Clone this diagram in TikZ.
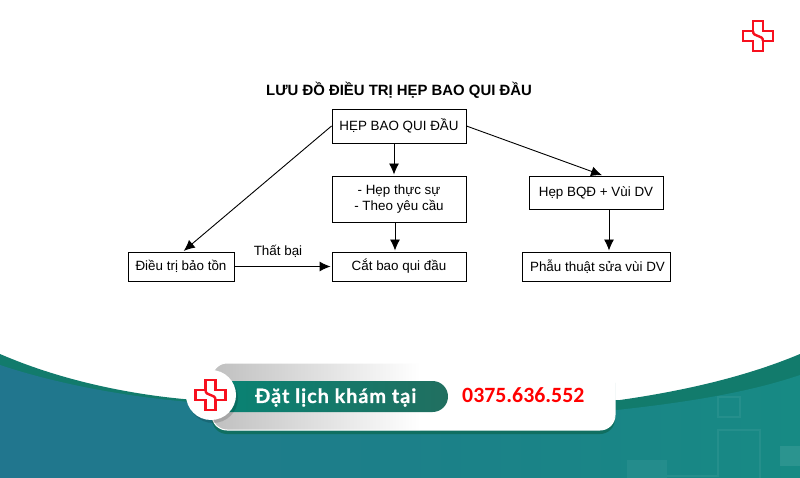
\documentclass[tikz,border=0pt]{standalone}
\usepackage{fontspec}
\setmainfont{Liberation Sans}
\newfontfamily\btnfont[LetterSpace=5,BoldFeatures={FakeBold=0.7}]{Lato}
\newfontfamily\phonefont{Carlito}
\usetikzlibrary{arrows.meta}
\definecolor{bandgreen}{HTML}{127B6C}
\definecolor{tealL}{HTML}{21768E}
\definecolor{tealR}{HTML}{178A84}
\definecolor{pillL}{HTML}{078475}
\definecolor{pillR}{HTML}{216F60}
\definecolor{logored}{HTML}{F7101E}
\tikzset{
  x=1pt,y=-1pt,
  box/.style={draw=black,line width=0.9pt,fill=white,inner sep=0pt,align=center,font=\fontsize{13.4}{16}\selectfont},
  conn/.style={draw=black,line width=0.9pt,-{Latex[length=11pt,width=10pt]},shorten >=1pt},
  logo/.style={draw=logored,line width=2.4pt,line join=miter,fill=none},
  faint/.style={draw=white,draw opacity=0.06,line width=2pt}
}
\newcommand{\logomark}[3]{%
  \begin{scope}[shift={(#1,#2)},scale=#3]
    \draw[logo] (-5,-15) -- (5,-15) -- (5,-5) -- (15,-5) -- (15,5) -- (5,5) -- (5,15) -- (-5,15) -- (-5,5) -- (-15,5) -- (-15,-5) -- (-5,-5) -- cycle;
    \draw[logo] (-5,-5) .. controls (-5,2) and (5,-2) .. (5,5);
  \end{scope}}
\begin{document}
\begin{tikzpicture}
\useasboundingbox (0,0) rectangle (800,478);
\fill[white] (0,0) rectangle (800,478);
% wave
\fill[bandgreen] (0,354) .. controls (60,380) and (130,395) .. (195,400) -- (620,400) .. controls (690,390) and (750,375) .. (800,354) -- (800,478) -- (0,478) -- cycle;
\shade[left color=tealL,right color=tealR] (0,365) .. controls (60,385) and (130,397) .. (190,402) -- (617,410) .. controls (690,402) and (750,392) .. (800,375) -- (800,478) -- (0,478) -- cycle;
% faint background squares
\draw[faint] (718,397) rectangle (740,417);
\draw[faint] (667,476) -- (718,476) -- (718,430) -- (760,430) -- (760,478);
\fill[white,opacity=0.09] (780,446) rectangle (800,466);
\fill[white,opacity=0.05] (627,460) rectangle (667,478);
% button
\fill[rounded corners=15pt,fill=bandgreen!90!black] (212,368) rectangle (615,434);
\begin{scope}
  \clip[rounded corners=15pt] (212,363) rectangle (615,430);
  \fill[white] (212,363) rectangle (615,430);
  \shade[left color=black!25,right color=white] (212,363) rectangle (420,430);
\end{scope}
\draw[white,line width=1pt,rounded corners=15pt] (212,363) rectangle (615,430);
\shade[left color=pillL,right color=pillR,rounded corners=15.5pt] (205,381) rectangle (448,412);
\fill[black,opacity=0.15] (213,398) circle (25);
\fill[white] (211,395) circle (25);
\logomark{210.5}{395}{1}
\logomark{758}{36}{1}
\node[inner sep=0pt,anchor=west] (btn) at (255,397.5) {\btnfont\bfseries\fontsize{19.8}{22}\selectfont\textcolor{white}{Đặt lịch khám tại}};
\node[inner sep=0pt,anchor=west] (phone) at (462,395.5) {\phonefont\bfseries\fontsize{21.8}{24}\selectfont\textcolor{red}{0375.636.552}};
% title
\node[inner sep=0pt,font=\bfseries\fontsize{14.9}{16}\selectfont] (title) at (399,90) {LƯU ĐỒ ĐIỀU TRỊ HẸP BAO QUI ĐẦU};
% boxes
\node[box,minimum width=134pt,minimum height=34pt] (hep) at (399,126) {HẸP BAO QUI ĐẦU};
\node[box,minimum width=134pt,minimum height=46pt] (thucsu) at (399,199) {- Hẹp thực sự\\- Theo yêu cầu};
\node[box,minimum width=134pt,minimum height=29pt] (cat) at (399,266.5) {Cắt bao qui đầu};
\node[box,minimum width=106pt,minimum height=29pt] (baoton) at (181,266.5) {Điều trị bảo tồn};
\node[box,minimum width=134pt,minimum height=33pt] (vui) at (596,192.5) {\raisebox{2.5pt}{Hẹp BQĐ + Vùi DV}};
\node[box,minimum width=148pt,minimum height=29pt] (phauthuat) at (596,266.5) {\hspace*{3pt}Phẫu thuật sửa vùi DV};
% connectors
\draw[conn] (hep.west) -- ([xshift=2pt]baoton.north);
\draw[conn] ([xshift=-5pt]hep.south) -- ([xshift=-5pt]thucsu.north);
\draw[conn] (hep.east) -- ([xshift=7pt]vui.north);
\draw[conn] ([xshift=-4pt]thucsu.south) -- ([xshift=-4pt]cat.north);
\draw[conn] (baoton.east) -- node[above=9pt,xshift=-5pt,inner sep=0pt,font=\fontsize{13.4}{14}\selectfont] (thatbai) {Thất bại} (cat.west);
\draw[conn] ([xshift=13pt]vui.south) -- ([xshift=13pt]phauthuat.north);
\end{tikzpicture}
\end{document}
